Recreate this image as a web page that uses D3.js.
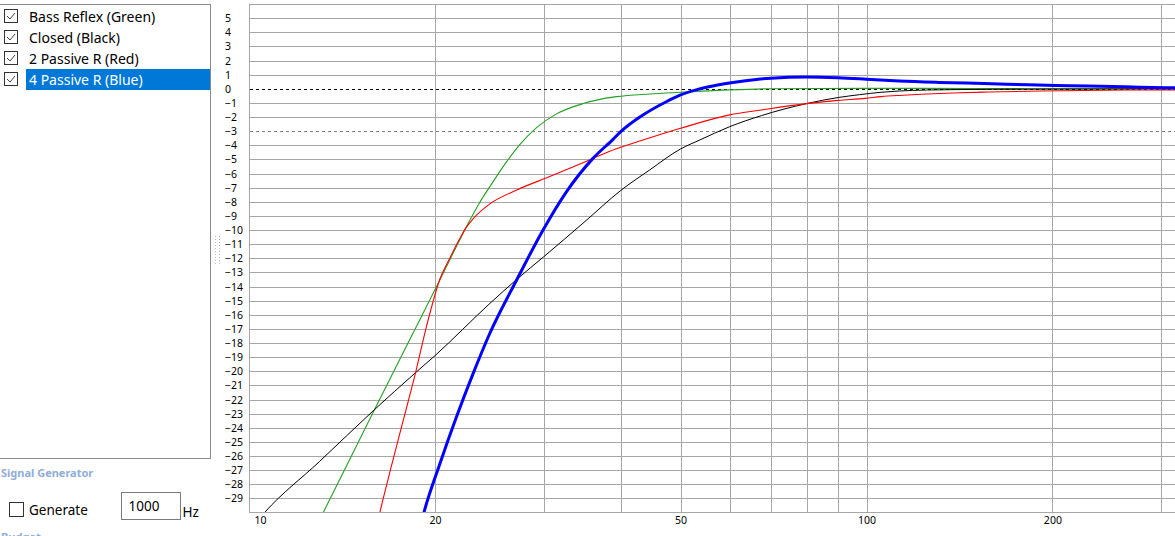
<!DOCTYPE html>
<html><head><meta charset="utf-8">
<script src="https://cdn.jsdelivr.net/npm/d3@7"></script>
<style>
body{margin:0;background:#fff;overflow:hidden}
text{font-family:"Noto Sans","Open Sans",sans-serif}
</style>
</head><body>
<script>
// ---------- data ----------
const legendItems = ["Bass Reflex (Green)", "Closed (Black)", "2 Passive R (Red)", "4 Passive R (Blue)"];
const selectedIndex = 3;
const yTickValues = [5,4,3,2,1,0,-1,-2,-3,-4,-5,-6,-7,-8,-9,-10,-11,-12,-13,-14,-15,-16,-17,-18,-19,-20,-21,-22,-23,-24,-25,-26,-27,-28,-29];
const xLabelValues = [10, 20, 50, 100, 200];
const xGridValues = [20, 30, 40, 50, 60, 70, 80, 90, 100, 200, 300, 400];

const greenFreq = [12.5, 13.19, 15.89, 18.0, 20.37, 22.0, 22.79, 23.6, 24.55, 26.0, 27.45, 29.22, 31.48, 34.75, 37.0, 39.36, 44.55, 50, 60, 70, 100, 150, 200, 400];
const greenDb   = [-32, -30, -22.9, -18.2, -13.54, -10.6, -9.3, -8.1, -6.93, -5.3, -3.95, -2.75, -1.78, -1.05, -0.75, -0.56, -0.37, -0.25, -0.08, 0, 0.03, 0.02, 0, 0];

const blackFreq = [10, 10.6, 13, 15.89, 18.61, 20, 24.55, 27.13, 30, 35, 40, 44.55, 50, 53.7, 60, 67.6, 80, 90, 97.4, 105.6, 113, 125, 160, 200, 400];
const blackDb   = [-31.3, -30, -26.4, -22.8, -20.1, -18.9, -15.2, -13.5, -11.9, -9.4, -7.2, -5.75, -4.26, -3.63, -2.69, -1.9, -1.05, -0.62, -0.42, -0.25, -0.16, -0.09, -0.04, -0.02, 0];

const redFreq = [15.9, 16.29, 17.55, 18.61, 19.39, 20.37, 21.14, 21.95, 22.5, 23.07, 24.55, 27.13, 30.69, 36.06, 39.25, 43.45, 50, 60, 67.6, 80, 90, 99.6, 105.6, 114.5, 125, 138, 158, 192, 263, 400];
const redDb   = [-32, -30, -24.4, -20.1, -16.8, -13.5, -12.0, -10.6, -9.8, -9.2, -8.15, -7.17, -6.22, -4.93, -4.26, -3.63, -2.8, -1.85, -1.5, -1.05, -0.82, -0.68, -0.56, -0.46, -0.37, -0.3, -0.23, -0.16, -0.09, -0.08];

const blueFreq = [18.8, 19.2, 20.37, 21.68, 23.07, 24.55, 27.13, 29.94, 32.66, 36.06, 38.87, 40, 43.45, 47.4, 50, 53, 56.4, 60, 66.3, 70, 80, 90, 100, 113, 131, 155, 183, 213, 262, 305, 400];
const blueDb   = [-31.6, -30, -26.56, -23.22, -20.15, -17.31, -13.54, -10.0, -7.3, -4.93, -3.58, -3.04, -1.86, -0.92, -0.44, -0.08, 0.19, 0.4, 0.66, 0.75, 0.83, 0.78, 0.68, 0.55, 0.45, 0.37, 0.28, 0.22, 0.14, 0.07, 0.03];

// ---------- layout ----------
const W = 1175, H = 536;
const plot = {left: 249, top: 4, bottom: 512.5};
const svg = d3.select("body").append("svg").attr("width", W).attr("height", H);

const x = d3.scaleLog().domain([10, 100]).range([249, 866.5]);
const y = d3.scaleLinear().domain([-30, 6]).range([512.5, 4]);
const snap = v => Math.round(v) + 0.5;
const gridColor = "#a6a6a6";

// ---------- left list box ----------
const lb = svg.append("g");
lb.append("rect").attr("x", -0.5).attr("y", 4.5).attr("width", 211).attr("height", 454)
  .attr("fill", "#fff").attr("stroke", "#8a8a8a");
legendItems.forEach((t, i) => {
  const rowY = 22 + 21 * i;
  if (i === selectedIndex) {
    lb.append("rect").attr("x", 26).attr("y", rowY - 16).attr("width", 184).attr("height", 21).attr("fill", "#0078d7");
  }
  const bx = 4.5, by = 9.5 + 21 * i;
  lb.append("rect").attr("x", bx).attr("y", by).attr("width", 13).attr("height", 13)
    .attr("fill", "#fff").attr("stroke", "#333");
  lb.append("path").attr("d", `M${bx+2.5},${by+6.5} L${bx+5.5},${by+9.5} L${bx+10.5},${by+3.5}`)
    .attr("fill", "none").attr("stroke", "#444").attr("stroke-width", 1);
  lb.append("text").attr("x", 29).attr("y", rowY - 0.5).attr("font-size", "14px")
    .attr("fill", i === selectedIndex ? "#fff" : "#000").text(t);
});

// splitter grip
const grip = svg.append("g");
for (let k = 0; k < 10; k++) {
  grip.append("rect").attr("x", 215).attr("y", 236 + k * 3).attr("width", 1).attr("height", 1).attr("fill", "#b8b8b8");
  grip.append("rect").attr("x", 219).attr("y", 236 + k * 3).attr("width", 1).attr("height", 1).attr("fill", "#b8b8b8");
}

// bottom controls
svg.append("text").attr("x", 1).attr("y", 477).attr("font-size", "11px").attr("font-weight", "bold")
  .attr("fill", "#8fadd8").text("Signal Generator");
svg.append("rect").attr("x", 9.5).attr("y", 502.5).attr("width", 14).attr("height", 14)
  .attr("fill", "#fff").attr("stroke", "#333");
svg.append("text").attr("x", 29).attr("y", 515).attr("font-size", "13.5px").attr("fill", "#000").text("Generate");
svg.append("rect").attr("x", 121.5).attr("y", 492.5).attr("width", 59).attr("height", 27)
  .attr("fill", "#fff").attr("stroke", "#7a7a7a");
svg.append("text").attr("x", 128.5).attr("y", 511).attr("font-size", "13.5px").attr("fill", "#000").text("1000");
svg.append("text").attr("x", 182.5).attr("y", 516.5).attr("font-size", "13.5px").attr("fill", "#000").text("Hz");
svg.append("text").attr("x", 1).attr("y", 541).attr("font-size", "11px").attr("font-weight", "bold")
  .attr("fill", "#8fadd8").text("Budget");

// ---------- grid ----------
const grid = svg.append("g").attr("shape-rendering", "crispEdges");
grid.selectAll("line.h").data(yTickValues.filter(v => v !== 0 && v !== -3)).join("line")
  .attr("x1", plot.left).attr("x2", W).attr("y1", d => snap(y(d))).attr("y2", d => snap(y(d)))
  .attr("stroke", gridColor).attr("stroke-width", 1);
grid.selectAll("line.v").data(xGridValues).join("line")
  .attr("x1", d => snap(x(d))).attr("x2", d => snap(x(d))).attr("y1", plot.top).attr("y2", plot.bottom)
  .attr("stroke", gridColor).attr("stroke-width", 1);
// frame
grid.append("line").attr("x1", 249.5).attr("x2", 249.5).attr("y1", 4).attr("y2", 513).attr("stroke", gridColor);
grid.append("line").attr("x1", 249).attr("x2", W).attr("y1", 512.5).attr("y2", 512.5).attr("stroke", gridColor);
grid.append("line").attr("x1", 249).attr("x2", W).attr("y1", 4.5).attr("y2", 4.5).attr("stroke", gridColor);
// reference dashed lines
grid.append("line").attr("x1", 250).attr("x2", W).attr("y1", snap(y(0))).attr("y2", snap(y(0)))
  .attr("stroke", "#000").attr("stroke-dasharray", "3,3");
grid.append("line").attr("x1", 250).attr("x2", W).attr("y1", snap(y(-3))).attr("y2", snap(y(-3)))
  .attr("stroke", "#808080").attr("stroke-dasharray", "3,3");

// ---------- axes labels ----------
const yAxis = svg.append("g").attr("transform", "translate(249,0)")
  .call(d3.axisLeft(y).tickValues(yTickValues).tickSize(0).tickPadding(24).tickFormat(d3.format("d")));
yAxis.select(".domain").remove();
yAxis.selectAll("text").attr("text-anchor", "start").attr("x", -24).attr("dy", "0.34em")
  .attr("font-size", "10.5px").attr("fill", "#000").style("font-family", '"Noto Sans",sans-serif');

const xAxis = svg.append("g").attr("transform", "translate(0,512.5)")
  .call(d3.axisBottom(x).tickValues(xLabelValues).tickSize(0).tickPadding(4).tickFormat(d3.format("d")));
xAxis.select(".domain").remove();
xAxis.selectAll("text").attr("font-size", "10.5px").attr("fill", "#000")
  .style("font-family", '"Noto Sans",sans-serif')
  .attr("dx", d => d === 10 ? 11 : 0);

// ---------- curves ----------
svg.append("clipPath").attr("id", "clip").append("rect")
  .attr("x", 250).attr("y", 5).attr("width", W).attr("height", 507);
const curves = svg.append("g").attr("clip-path", "url(#clip)");
const line = d3.line().x(d => x(d[0])).y(d => y(d[1])).curve(d3.curveMonotoneX);
const series = [
  {f: greenFreq, v: greenDb, color: "#22a022", w: 1.1},
  {f: blackFreq, v: blackDb, color: "#000000", w: 1},
  {f: redFreq, v: redDb, color: "#ff0000", w: 1.1},
  {f: blueFreq, v: blueDb, color: "#0000ff", w: 3}
];
series.forEach(s => {
  curves.append("path").datum(s.f.map((f, i) => [f, s.v[i]]))
    .attr("d", line).attr("fill", "none").attr("stroke", s.color).attr("stroke-width", s.w);
});
</script>
</body></html>
